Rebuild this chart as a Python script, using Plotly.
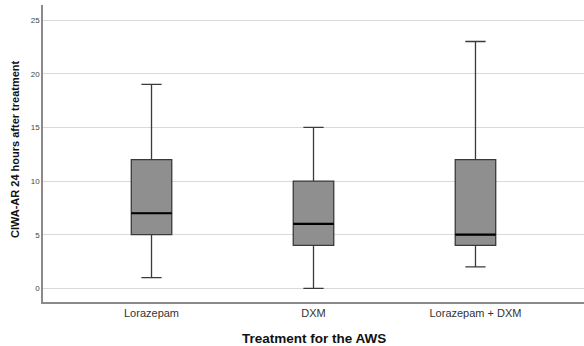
import plotly.graph_objects as go

# Treatment groups and their summary statistics (CIWA-AR score 24 h after treatment)
groups = ["Lorazepam", "DXM", "Lorazepam + DXM"]
lower_whisker = [1, 0, 2]
q1_values = [5, 4, 4]
median_values = [7, 6, 5]
q3_values = [12, 10, 12]
upper_whisker = [19, 15, 23]

y_ticks = [0, 5, 10, 15, 20, 25]

BOX_WIDTH = 0.25

fig = go.Figure()

fig.add_trace(go.Box(
    x=groups,
    q1=q1_values,
    median=median_values,
    q3=q3_values,
    lowerfence=lower_whisker,
    upperfence=upper_whisker,
    width=BOX_WIDTH,
    whiskerwidth=0.5,
    fillcolor="#8f8f8f",
    line=dict(color="#3a3a3a", width=1.3),
    boxpoints=False,
    showlegend=False,
    hoverinfo="skip",
))

# Emphasised median lines drawn on top of each box
for i, med in enumerate(median_values):
    fig.add_shape(
        type="line", xref="x", yref="y",
        x0=i - BOX_WIDTH / 2, x1=i + BOX_WIDTH / 2,
        y0=med, y1=med,
        line=dict(color="#000000", width=2.2),
        layer="above",
    )

# Axis titles
fig.add_annotation(
    text="<b>CIWA-AR 24 hours after treatment</b>",
    xref="paper", yref="paper", x=0, y=0.515,
    xshift=-28, textangle=-90, showarrow=False,
    xanchor="center", yanchor="middle",
    font=dict(size=11, color="#111111"),
)
fig.add_annotation(
    text="<b>Treatment for the AWS</b>",
    xref="paper", yref="paper", x=0.5, y=0,
    yshift=-36, showarrow=False,
    xanchor="center", yanchor="middle",
    font=dict(size=13.5, color="#111111"),
)

fig.update_layout(
    width=584, height=346,
    margin=dict(l=43, r=0, t=5, b=44),
    paper_bgcolor="white",
    plot_bgcolor="white",
    font=dict(family="Liberation Sans, Arial, sans-serif", color="#222222"),
)

fig.update_xaxes(
    type="category",
    categoryorder="array",
    categoryarray=groups,
    range=[-0.67, 2.67],
    showline=True, linecolor="#8a8a8a", linewidth=1.5,
    showgrid=False, zeroline=False,
    ticks="", tickfont=dict(size=11, color="#333333"),
)

fig.update_yaxes(
    range=[-1.27, 26.4],
    tickvals=y_ticks,
    showline=True, linecolor="#8a8a8a", linewidth=1.5,
    showgrid=True, gridcolor="#d9d9d9", gridwidth=1.3,
    zeroline=False,
    ticks="", tickfont=dict(size=8, color="#444444"),
)

fig.write_html("out.html")
